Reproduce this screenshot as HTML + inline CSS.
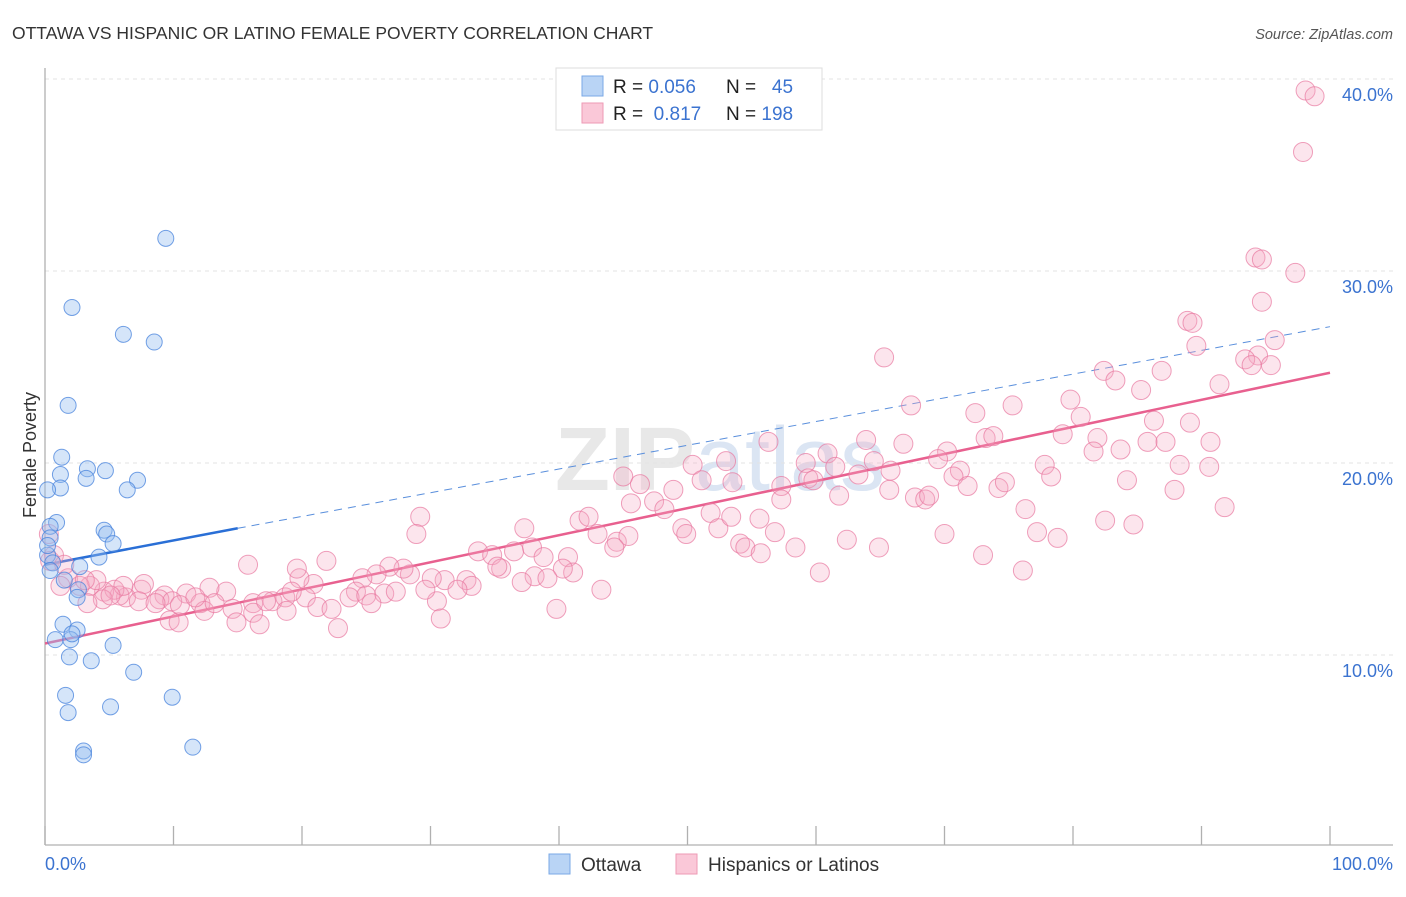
<!DOCTYPE html>
<html><head><meta charset="utf-8"><style>
body{margin:0;background:#fff;font-family:"Liberation Sans",sans-serif}
svg text{font-family:"Liberation Sans",sans-serif}
</style></head><body>
<svg id="chart" width="1406" height="892" xmlns="http://www.w3.org/2000/svg">
<text x="12" y="39" font-size="17.5" fill="#333">OTTAWA VS HISPANIC OR LATINO FEMALE POVERTY CORRELATION CHART</text>
<text x="1393" y="39" font-size="14.5" fill="#555" font-style="italic" text-anchor="end">Source: ZipAtlas.com</text>
<text x="720" y="490" font-size="90" fill="#e8e8e8" text-anchor="middle" font-weight="bold">ZIP<tspan font-weight="normal" fill="#dbe5f3">atlas</tspan></text>
<g id="grid"></g>
<g id="axes"></g>
<g id="lines"></g>
<g id="points"></g>
<text x="36" y="455" font-size="18" fill="#333" text-anchor="middle" transform="rotate(-90 36 455)">Female Poverty</text>
<g>
<rect x="556" y="68" width="266" height="62" fill="#fff" stroke="#ddd"/>
<rect x="582" y="76" width="21" height="20" fill="#b9d4f5" stroke="#7aa8e6"/>
<rect x="582" y="103" width="21" height="20" fill="#fac8d8" stroke="#ee9ab5"/>
<text x="613" y="93" font-size="19" fill="#222">R = <tspan fill="#3b73d0">0.056</tspan></text>
<text x="726" y="93" font-size="19" fill="#222">N = <tspan fill="#3b73d0">&#160;&#160;45</tspan></text>
<text x="613" y="120" font-size="19" fill="#222">R = <tspan fill="#3b73d0">&#160;0.817</tspan></text>
<text x="726" y="120" font-size="19" fill="#222">N = <tspan fill="#3b73d0">198</tspan></text>
</g>
<g>
<rect x="549" y="854" width="21" height="20" fill="#b9d4f5" stroke="#7aa8e6"/>
<text x="581" y="871" font-size="19" fill="#333">Ottawa</text>
<rect x="676" y="854" width="21" height="20" fill="#fac8d8" stroke="#ee9ab5"/>
<text x="708" y="871" font-size="19" fill="#333">Hispanics or Latinos</text>
</g>
</svg>
<script>
const yTicks=[10,20,30,40];
const yTickLabels=["10.0%","20.0%","30.0%","40.0%"];
const xTickValues=[0,10,20,30,40,50,60,70,80,90,100];
const xEndLabels=["0.0%","100.0%"];
const blueX=[9.4,2.1,6.1,8.5,1.8,1.3,1.2,1.2,0.2,3.3,4.7,3.2,7.2,6.4,0.9,0.4,4.6,4.8,5.3,0.4,4.2,0.2,0.6,2.7,0.4,1.5,2.6,2.5,1.4,2.5,0.8,2.0,2.1,5.3,1.9,3.6,6.9,9.9,1.6,1.8,5.1,3.0,3.0,11.5,0.2];
const blueY=[31.7,28.1,26.7,26.3,23.0,20.3,19.4,18.7,18.6,19.7,19.6,19.2,19.1,18.6,16.9,16.7,16.5,16.3,15.8,16.1,15.1,15.2,14.8,14.6,14.4,13.9,13.4,13.0,11.6,11.3,10.8,10.8,11.1,10.5,9.9,9.7,9.1,7.8,7.9,7.0,7.3,5.0,4.8,5.2,15.7];
const pinkX=[98.1,98.8,97.9,94.2,94.7,97.3,94.7,88.9,89.3,95.7,89.6,94.4,93.4,93.9,95.4,82.4,86.9,83.3,91.4,85.3,65.3,67.4,75.3,72.4,79.8,80.6,86.3,89.1,73.2,73.8,90.7,79.2,85.8,87.2,81.9,83.7,81.6,63.9,56.3,60.9,66.8,70.2,50.4,53.0,59.2,61.5,64.5,59.4,63.3,65.8,69.5,71.2,77.8,78.3,88.3,90.6,84.2,45.0,46.3,48.9,51.1,53.5,57.3,59.8,57.3,61.8,65.7,70.7,71.8,74.2,74.7,67.7,68.5,68.8,87.9,76.3,82.5,91.8,84.7,77.2,78.8,70.0,29.2,37.3,41.6,42.3,43.0,44.5,45.4,47.4,45.6,48.2,51.8,49.6,49.9,52.4,53.4,55.6,56.8,54.1,54.5,55.7,58.4,62.4,64.9,73.0,76.1,28.9,15.8,21.9,33.7,34.8,36.5,37.9,38.8,40.7,44.3,41.1,40.3,38.1,37.1,39.1,35.5,35.2,32.8,31.1,30.1,33.2,32.1,30.5,29.6,28.4,27.9,26.8,25.8,24.7,24.2,23.7,25.0,26.4,27.3,25.4,20.9,19.8,19.6,17.7,18.7,20.3,19.2,14.1,12.8,11.0,9.3,8.9,7.5,7.7,6.3,5.8,4.6,3.5,5.4,4.0,1.8,2.7,0.7,0.4,1.5,4.5,7.3,9.9,10.5,12.1,12.4,9.7,8.6,11.7,13.2,14.6,16.2,16.2,14.9,16.7,17.2,18.8,21.2,22.3,22.8,30.8,39.8,43.3,60.3,3.3,6.1,5.1,3.1,10.4,1.2,0.3];
const pinkY=[39.4,39.1,36.2,30.7,30.6,29.9,28.4,27.4,27.3,26.4,26.1,25.6,25.4,25.1,25.1,24.8,24.8,24.3,24.1,23.8,25.5,23.0,23.0,22.6,23.3,22.4,22.2,22.1,21.3,21.4,21.1,21.5,21.1,21.1,21.3,20.7,20.6,21.2,21.1,20.5,21.0,20.6,19.9,20.1,20.0,19.8,20.1,19.2,19.4,19.6,20.2,19.6,19.9,19.3,19.9,19.8,19.1,19.3,18.9,18.6,19.1,19.0,18.8,19.1,18.1,18.3,18.6,19.3,18.8,18.7,19.0,18.2,18.1,18.3,18.6,17.6,17.0,17.7,16.8,16.4,16.1,16.3,17.2,16.6,17.0,17.2,16.3,15.9,16.2,18.0,17.9,17.6,17.4,16.6,16.3,16.6,17.2,17.1,16.4,15.8,15.6,15.3,15.6,16.0,15.6,15.2,14.4,16.3,14.7,14.9,15.4,15.2,15.4,15.6,15.1,15.1,15.6,14.3,14.5,14.1,13.8,14.0,14.5,14.6,13.9,13.9,14.0,13.6,13.4,12.8,13.4,14.2,14.5,14.6,14.2,14.0,13.3,13.0,13.1,13.2,13.3,12.7,13.7,14.0,14.5,12.8,13.0,13.0,13.3,13.3,13.5,13.2,13.1,12.9,13.4,13.7,13.0,13.1,13.3,13.6,13.4,13.9,14.0,13.6,15.2,14.9,14.7,12.9,12.8,12.8,12.6,12.7,12.3,11.8,12.7,13.0,12.7,12.4,12.7,12.2,11.7,11.6,12.8,12.3,12.5,12.4,11.4,11.9,12.4,13.4,14.3,12.7,13.6,13.1,13.9,11.7,13.6,16.3];
const blueTrendX=[0,15,100];
const blueTrendY=[14.7,16.6,27.1];
const pinkTrendX=[0,100];
const pinkTrendY=[10.6,24.7];

const NS="http://www.w3.org/2000/svg";
const X=v=>45+v*12.85;
const Y=v=>847-v*19.2;
function mk(parent,tag,attrs){const e=document.createElementNS(NS,tag);for(const k in attrs)e.setAttribute(k,attrs[k]);document.getElementById(parent).appendChild(e);return e;}

yTicks.forEach((t,i)=>{
  const g=mk('grid','line',{x1:45,x2:1393,y1:Y(t),y2:Y(t),stroke:'#e3e3e3','stroke-dasharray':'4,4'});
  
  
  const l=mk('grid','text',{x:1393,y:Y(t)+22,'font-size':18,fill:'#3b73d0','text-anchor':'end'});
  l.textContent=yTickLabels[i];
  
  
});
const ax=mk('axes','line',{x1:45,x2:45,y1:68,y2:845,stroke:'#b0b0b0','stroke-width':1.3});


const bx=mk('axes','line',{x1:45,x2:1393,y1:845,y2:845,stroke:'#b0b0b0','stroke-width':1.3});


xTickValues.forEach(v=>{
  const t=mk('axes','line',{x1:X(v),x2:X(v),y1:826,y2:845,stroke:'#b0b0b0','stroke-width':1.3});
  
  
});
const l0=mk('axes','text',{x:45,y:870,'font-size':18,fill:'#3b73d0'});l0.textContent=xEndLabels[0];


const l1=mk('axes','text',{x:1393,y:870,'font-size':18,fill:'#3b73d0','text-anchor':'end'});l1.textContent=xEndLabels[1];



pinkX.forEach((v,i)=>{
  const c=mk('points','circle',{cx:X(v),cy:Y(pinkY[i]),r:9.5,fill:'rgba(246,170,195,0.3)',stroke:'rgba(232,120,160,0.7)','stroke-width':1});
  
  
});
blueX.forEach((v,i)=>{
  const c=mk('points','circle',{cx:X(v),cy:Y(blueY[i]),r:8,fill:'rgba(150,190,240,0.4)',stroke:'rgba(70,130,220,0.75)','stroke-width':1});
  
  
});
const bs=mk('lines','line',{x1:X(blueTrendX[0]),y1:Y(blueTrendY[0]),x2:X(blueTrendX[1]),y2:Y(blueTrendY[1]),stroke:'#2a6fd6','stroke-width':2.5});


const bd=mk('lines','line',{x1:X(blueTrendX[1]),y1:Y(blueTrendY[1]),x2:X(blueTrendX[2]),y2:Y(blueTrendY[2]),stroke:'#5a8fdc','stroke-width':1,'stroke-dasharray':'8,6'});


const pl=mk('lines','line',{x1:X(pinkTrendX[0]),y1:Y(pinkTrendY[0]),x2:X(pinkTrendX[1]),y2:Y(pinkTrendY[1]),stroke:'#e8608f','stroke-width':2.5});


</script>
</body></html>
